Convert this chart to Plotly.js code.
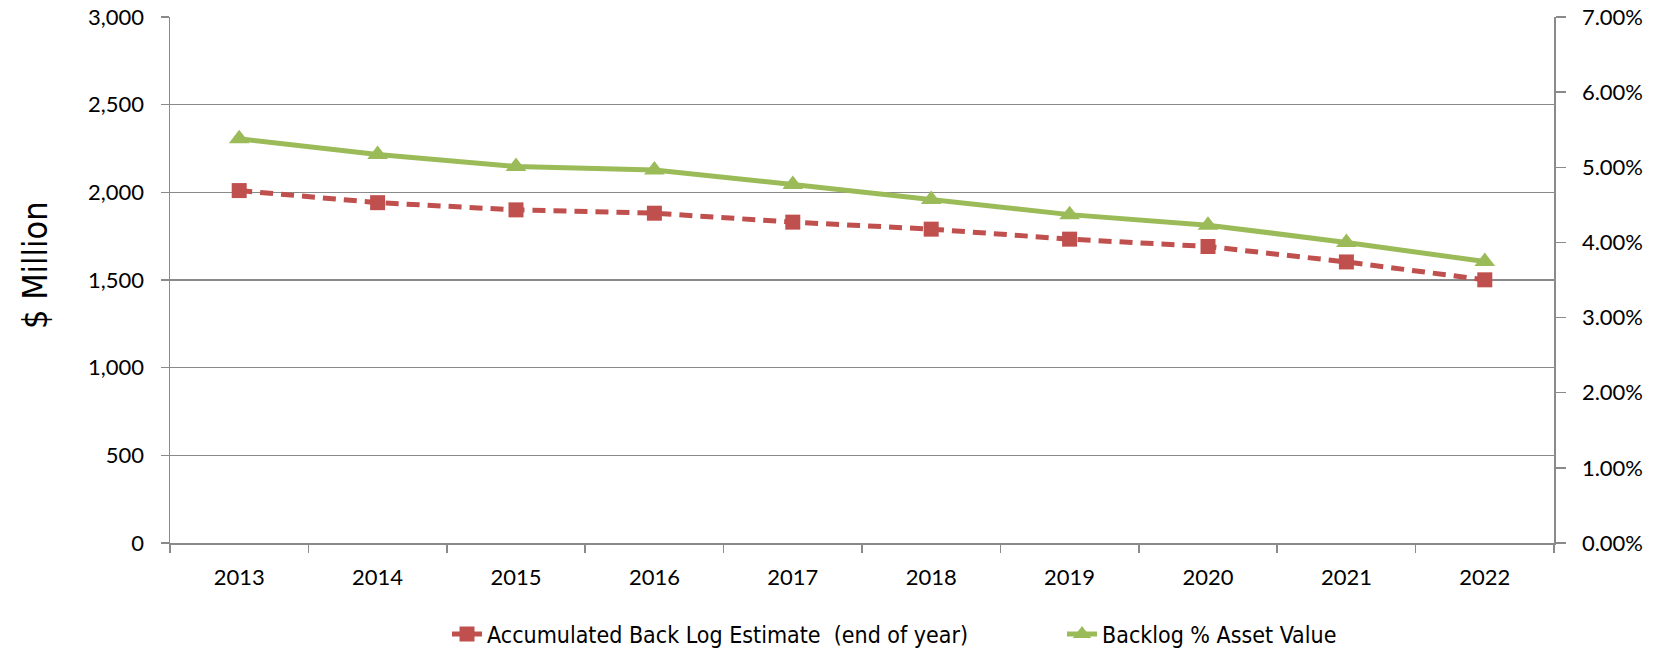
<!DOCTYPE html>
<html>
<head>
<meta charset="utf-8">
<script src="https://cdn.plot.ly/plotly-3.0.1.min.js"></script>
<style>html,body{margin:0;padding:0;background:#fff;}#chart{width:1663px;height:649px;}</style>
</head>
<body>
<div id="chart"></div>
<script>
var years = ["2013","2014","2015","2016","2017","2018","2019","2020","2021","2022"];
var backlogMillion = [2010, 1941, 1900, 1881, 1830, 1790, 1733, 1691, 1603, 1501];
var backlogPctAsset = [0.0538, 0.0517, 0.0501, 0.04965, 0.0477, 0.0457, 0.0437, 0.0423, 0.0400, 0.03745];
var leftTicks = [0, 500, 1000, 1500, 2000, 2500, 3000];
var rightTicks = [0, 0.01, 0.02, 0.03, 0.04, 0.05, 0.06, 0.07];

var FONT = "Lato, 'Open Sans', sans-serif";
var NARROW = "'Liberation Sans Narrow', 'DejaVu Sans Condensed', sans-serif";
var gridColor = "#8a8a8a";

var traces = [
  {
    x: years, y: backlogMillion, type: "scatter", mode: "lines+markers",
    name: "Accumulated Back Log Estimate  (end of year)",
    line: {color: "#C0504D", width: 5, dash: "13px,8px"},
    marker: {symbol: "square", size: 15, color: "#C0504D"},
    yaxis: "y"
  },
  {
    x: years, y: backlogPctAsset, type: "scatter", mode: "lines+markers",
    name: "Backlog % Asset Value",
    line: {color: "#9BBB59", width: 5},
    marker: {symbol: "triangle-up", size: 18, color: "#9BBB59"},
    yaxis: "y2"
  }
];

var layout = {
  width: 1663, height: 649,
  margin: {l: 170, r: 109, t: 17, b: 106},
  paper_bgcolor: "#fff", plot_bgcolor: "#fff",
  font: {family: FONT, size: 22, color: "#000"},
  showlegend: true,
  legend: {orientation: "h", xref: "container", x: 0.2688, xanchor: "left",
           yref: "container", y: 0.023, yanchor: "middle",
           entrywidth: 570, entrywidthmode: "pixels",
           font: {family: NARROW, size: 23}},
  annotations: [{
    text: "$ Million", textangle: -90, showarrow: false,
    xref: "paper", x: 0, xanchor: "center", xshift: -135,
    yref: "paper", y: 0.5285, yanchor: "middle",
    font: {family: NARROW, size: 34, color: "#000"}
  }],
  xaxis: {
    type: "category", range: [-0.5, 9.5], tickson: "boundaries", ticks: "outside", ticklen: 8, tickwidth: 1.5, tickcolor: gridColor,
    showline: true, linecolor: gridColor, linewidth: 1.5, showgrid: false, zeroline: false,
    tickfont: {family: FONT, size: 22}, ticklabelstandoff: 14
  },
  yaxis: {
    range: [0, 3000], tickvals: leftTicks, tickformat: ",d",
    ticks: "outside", ticklen: 8, tickwidth: 1.5, tickcolor: gridColor,
    showline: true, linecolor: gridColor, linewidth: 1.5,
    showgrid: true, gridcolor: gridColor, gridwidth: 1.5, zeroline: false,
    tickfont: {family: FONT, size: 22}, ticklabelstandoff: 12
  },
  yaxis2: {
    overlaying: "y", side: "right", range: [0, 0.07], tickvals: rightTicks, tickformat: ".2%",
    ticks: "outside", ticklen: 10, tickwidth: 1.5, tickcolor: gridColor,
    showline: true, linecolor: gridColor, linewidth: 1.5, showgrid: false, zeroline: false,
    tickfont: {family: FONT, size: 22}, ticklabelstandoff: 12
  }
};

Plotly.newPlot("chart", traces, layout, {displayModeBar: false, staticPlot: true});
</script>
</body>
</html>
